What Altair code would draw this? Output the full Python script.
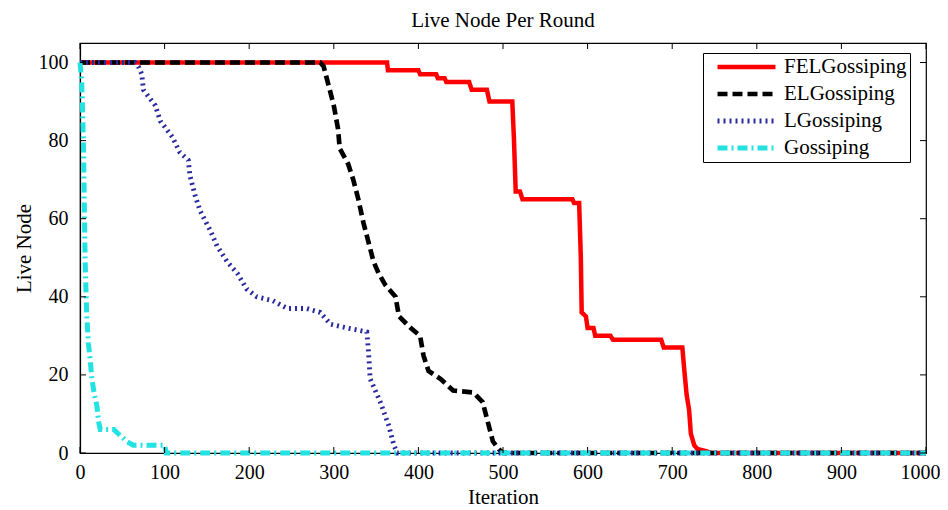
import altair as alt
import pandas as pd

# ---------------- data ----------------
series = ["FELGossiping", "ELGossiping", "LGossiping", "Gossiping"]

fel_x = [0, 363, 364, 400, 402, 421, 423, 431, 433, 460, 463, 481, 484, 511, 513, 515, 520, 523,
         582, 584, 590, 592, 593, 598, 600, 607, 609, 627, 630, 687, 690, 712, 714, 717, 720, 722,
         726, 730, 740, 746, 1000]
fel_y = [100, 100, 98, 98, 97, 97, 96, 96, 95, 95, 93, 93, 90, 90, 80, 67, 67, 65,
         65, 64, 64, 50, 36, 35, 32, 32, 30, 30, 29, 29, 27, 27, 22, 15, 11, 5,
         2, 1, 0.5, 0, 0]

el_x = [0, 284, 288, 294, 300, 305, 307, 317, 323, 329, 335, 341, 347, 353, 361, 373, 377, 391,
        402, 406, 412, 426, 441, 465, 476, 482, 488, 495, 500, 1000]
el_y = [100, 100, 99, 94, 89, 83, 78, 74, 70, 65, 59, 54, 49, 46, 43, 40, 35, 32,
        30, 25, 21, 19, 16, 15.5, 13, 8, 3, 1, 0, 0]

l_x = [0, 65, 69, 73, 75, 89, 95, 109, 118, 128, 130, 136, 142, 154, 162, 174, 186, 197, 209,
       228, 245, 268, 284, 296, 316, 339, 341, 343, 355, 365, 371, 375, 1000]
l_y = [100, 100, 99, 97, 93, 89, 85, 81, 77, 75, 71, 66, 62, 57, 53, 49, 46, 42, 40,
       39, 37, 37, 36, 33, 32, 31, 26, 19, 13, 7, 2, 0, 0]

g_x = [0, 2, 3, 4, 5, 6, 7, 8, 10, 12, 14, 17, 20, 22, 24, 40, 45, 50, 55, 63, 100, 102, 1000]
g_y = [100, 95, 88, 80, 65, 50, 42, 35, 28, 24, 19, 15, 12, 8, 6, 6, 5, 4, 3, 2, 2, 0, 0]

x_ticks = [0, 100, 200, 300, 400, 500, 600, 700, 800, 900, 1000]
y_ticks = [0, 20, 40, 60, 80, 100]

colors = ["#ff0000", "#000000", "#2a2aa0", "#22e2e2"]
dashes = [[1, 0], [10, 5], [2, 4], [10, 4, 2, 4]]
widths = [4.5, 5, 2.5, 4.5]

rows = []
for name, xs_, ys_ in zip(series, [fel_x, el_x, l_x, g_x], [fel_y, el_y, l_y, g_y]):
    for i, (a, b) in enumerate(zip(xs_, ys_)):
        rows.append({"series": name, "iteration": a, "live": b, "idx": i})
df = pd.DataFrame(rows)

W, H = 846, 410
FONT = "Liberation Serif"

xsc = alt.Scale(domain=[0, 1000], nice=False, zero=False)
ysc = alt.Scale(domain=[0, 105], nice=False, zero=False)
xax = alt.Axis(values=x_ticks, title="Iteration", format="d", labelFlush=False,
               labelOffset={"condition": {"test": "datum.value == 1000", "value": -6}, "value": 0})
yax = alt.Axis(values=y_ticks, title="Live Node", format="d", labelFlush=False)

leg = alt.Legend(
    title=None, orient="none", legendX=623, legendY=10,
    fillColor="white", strokeColor="black", padding=3,
    symbolType="stroke", symbolSize=3364, symbolOffset=9, clipHeight=22,
    labelFont=FONT, labelFontSize=21, labelColor="black", labelOffset=6,
    rowPadding=5, offset=0,
)

lines = alt.Chart(df).mark_line(clip=False, strokeCap="butt", strokeJoin="miter").encode(
    x=alt.X("iteration:Q", scale=xsc, axis=xax),
    y=alt.Y("live:Q", scale=ysc, axis=yax),
    color=alt.Color("series:N", scale=alt.Scale(domain=series, range=colors), legend=leg),
    strokeDash=alt.StrokeDash("series:N", scale=alt.Scale(domain=series, range=dashes), legend=leg),
    strokeWidth=alt.StrokeWidth("series:N", scale=alt.Scale(domain=series, range=widths), legend=leg),
    order="idx:Q",
)

xt = pd.DataFrame({"iteration": x_ticks})
yt = pd.DataFrame({"live": y_ticks})
bottom_t = alt.Chart(xt).mark_rule(color="black", strokeWidth=1).encode(
    x=alt.X("iteration:Q", scale=xsc, axis=xax), y=alt.value(H), y2=alt.value(H - 6))
top_t = alt.Chart(xt).mark_rule(color="black", strokeWidth=1).encode(
    x=alt.X("iteration:Q", scale=xsc, axis=xax), y=alt.value(0), y2=alt.value(6))
left_t = alt.Chart(yt).mark_rule(color="black", strokeWidth=1).encode(
    y=alt.Y("live:Q", scale=ysc, axis=yax), x=alt.value(0), x2=alt.value(6))
right_t = alt.Chart(yt).mark_rule(color="black", strokeWidth=1).encode(
    y=alt.Y("live:Q", scale=ysc, axis=yax), x=alt.value(W - 6), x2=alt.value(W))

chart = alt.layer(lines, bottom_t, top_t, left_t, right_t).properties(
    width=W, height=H,
    title=alt.Title("Live Node Per Round", font=FONT, fontSize=21, fontWeight="normal",
                    color="black", offset=12),
    autosize=alt.AutoSizeParams(type="none"),
    padding={"left": 72, "top": 35, "right": 14, "bottom": 57},
    background="white",
).configure_view(stroke="black", strokeWidth=1.2).configure_axis(
    grid=False, tickSize=0, domainColor="black", domainWidth=1.2,
    labelFont=FONT, labelFontSize=20, labelColor="black",
    titleFont=FONT, titleFontSize=21, titleFontWeight="normal", titleColor="black",
).configure_axisX(labelPadding=9, titlePadding=4).configure_axisY(
    labelPadding=12, titlePadding=4)

chart.save("out.html", embed_options={"renderer": "svg", "actions": False})
